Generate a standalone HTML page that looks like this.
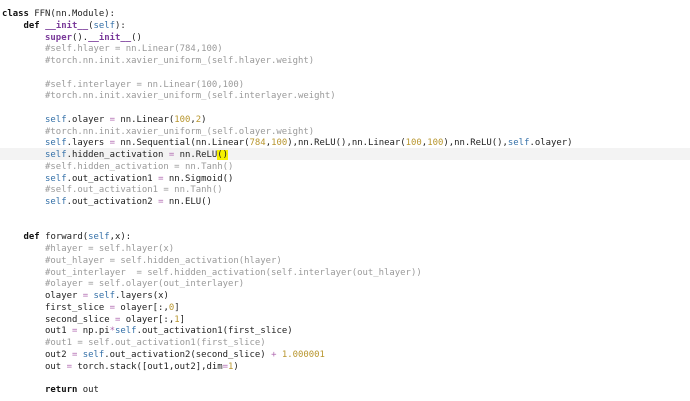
<!DOCTYPE html>
<html><head><style>
html,body{margin:0;padding:0;background:#fff;width:690px;height:401px;overflow:hidden;}
.hl{position:absolute;left:0;top:148px;width:690px;height:12px;background:#f3f3f3;}
pre{position:absolute;left:2px;top:9px;margin:0;font-family:"DejaVu Sans Mono","Liberation Mono",monospace;font-size:8.95px;line-height:11.75px;color:#222;}
.k{font-weight:bold;color:#111;}
.s{color:#3470a8;}
.c{color:#9a9a9a;}
.n{color:#b8962e;}
.o{color:#b06ab0;}
.p{color:#7a3a9a;font-weight:bold;}
.y{background:#f5f000;}
</style></head><body>
<div class="hl"></div>
<pre><span class="k">class</span> FFN(nn.Module):
    <span class="k">def</span> <span class="p">__init__</span>(<span class="s">self</span>):
        <span class="p">super</span>().<span class="p">__init__</span>()
        <span class="c">#self.hlayer = nn.Linear(784,100)</span>
        <span class="c">#torch.nn.init.xavier_uniform_(self.hlayer.weight)</span>

        <span class="c">#self.interlayer = nn.Linear(100,100)</span>
        <span class="c">#torch.nn.init.xavier_uniform_(self.interlayer.weight)</span>

        <span class="s">self</span>.olayer <span class="o">=</span> nn.Linear(<span class="n">100</span>,<span class="n">2</span>)
        <span class="c">#torch.nn.init.xavier_uniform_(self.olayer.weight)</span>
        <span class="s">self</span>.layers <span class="o">=</span> nn.Sequential(nn.Linear(<span class="n">784</span>,<span class="n">100</span>),nn.ReLU(),nn.Linear(<span class="n">100</span>,<span class="n">100</span>),nn.ReLU(),<span class="s">self</span>.olayer)
        <span class="s">self</span>.hidden_activation <span class="o">=</span> nn.ReLU<span class="y">()</span>
        <span class="c">#self.hidden_activation = nn.Tanh()</span>
        <span class="s">self</span>.out_activation1 <span class="o">=</span> nn.Sigmoid()
        <span class="c">#self.out_activation1 = nn.Tanh()</span>
        <span class="s">self</span>.out_activation2 <span class="o">=</span> nn.ELU()


    <span class="k">def</span> forward(<span class="s">self</span>,x):
        <span class="c">#hlayer = self.hlayer(x)</span>
        <span class="c">#out_hlayer = self.hidden_activation(hlayer)</span>
        <span class="c">#out_interlayer  = self.hidden_activation(self.interlayer(out_hlayer))</span>
        <span class="c">#olayer = self.olayer(out_interlayer)</span>
        olayer <span class="o">=</span> <span class="s">self</span>.layers(x)
        first_slice <span class="o">=</span> olayer[:,<span class="n">0</span>]
        second_slice <span class="o">=</span> olayer[:,<span class="n">1</span>]
        out1 <span class="o">=</span> np.pi<span class="o">*</span><span class="s">self</span>.out_activation1(first_slice)
        <span class="c">#out1 = self.out_activation1(first_slice)</span>
        out2 <span class="o">=</span> <span class="s">self</span>.out_activation2(second_slice) <span class="o">+</span> <span class="n">1.000001</span>
        out <span class="o">=</span> torch.stack([out1,out2],dim<span class="o">=</span><span class="n">1</span>)

        <span class="k">return</span> out
</pre>
</body></html>
